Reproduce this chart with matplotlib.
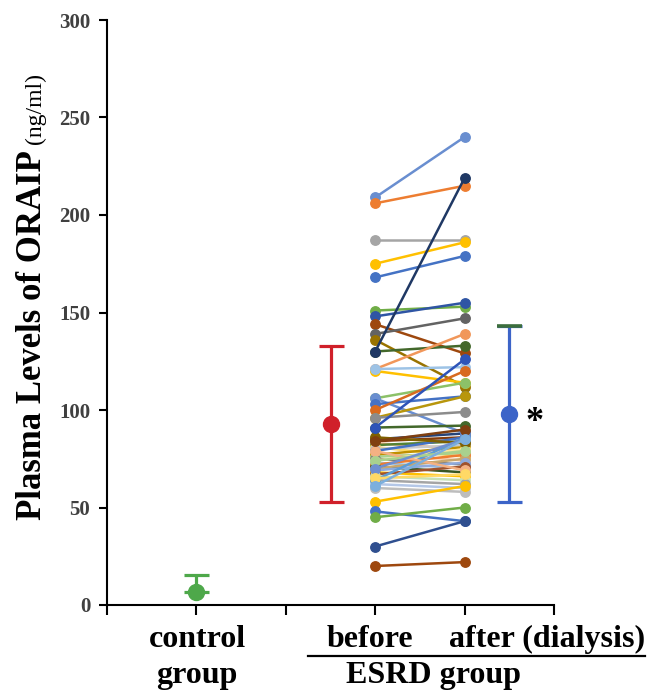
import matplotlib
matplotlib.use("Agg")
import matplotlib.pyplot as plt
from matplotlib.lines import Line2D

W, H = 649, 692
SERIF = ["Liberation Serif", "DejaVu Serif"]

# Einzelne Patienten: vor / nach Dialyse (ng/ml), Farben wie im Excel-Diagramm
before = [85, 84, 83, 82, 81, 80, 79, 78, 77, 76, 75, 74, 73, 72, 71, 70, 69, 68, 67, 66,
          64, 62, 64, 86, 79, 74, 70, 65, 60,
          209, 206, 187, 175, 168, 151, 148, 144, 139, 136, 130, 121, 120, 121,
          106, 106, 103, 100, 96, 96, 91, 84, 61, 53, 48, 45, 30, 20, 91, 130]
after = [88, 86, 80, 84, 76, 82, 86, 74, 81, 78, 72, 80, 70, 77, 68, 75, 73, 66, 71, 64,
         62, 60, 86, 83, 69, 79, 85, 67, 58,
         240, 215, 187, 186, 179, 153, 155, 129, 147, 112, 133, 139, 114, 122,
         114, 88, 107, 120, 107, 99, 92, 90, 85, 61, 43, 50, 43, 22, 126, 219]
colors = ["#264478", "#843C0C", "#F4B183", "#548235", "#FFD966", "#C9C9C9", "#4472C4",
          "#F8CBAD", "#BF9000", "#A9D18E", "#7F7F7F", "#FFE699", "#9DC3E6", "#ED7D31",
          "#375623", "#C9A66B", "#8FAADC", "#FFC000", "#A0522D", "#C5E0B4", "#A5A5A5",
          "#B4C7E7", "#5B9BD5", "#7F6000", "#F4B183", "#A9D18E", "#6F8FD0", "#FFD966",
          "#BDBDBD",
          "#698ED0", "#ED7D31", "#A5A5A5", "#FFC000", "#4472C4", "#70AD47", "#2F55A4",
          "#9E480E", "#636363", "#997300", "#43682B", "#F1975A", "#FFC000", "#9DC3E6",
          "#8CC168", "#698ED0", "#4472C4", "#D86A1F", "#B8960C", "#8C8C8C", "#43682B",
          "#7F3F10", "#7CAFDD", "#FFC000", "#4472C4", "#70AD47", "#2F4F8F", "#9E480E",
          "#2E54B8", "#1F3864"]

X_BEFORE, X_AFTER = 3, 4

# Gruppenmittel mit Fehlerbalken
grp_x    = [1, 2.5, 4.5]
grp_mean = [6.7, 93, 98]
grp_lo   = [6.7, 53, 53]
grp_hi   = [15.5, 133, 143]
grp_col  = ["#4EA84A", "#D0202A", "#3C64C8"]

fig = plt.figure(figsize=(W / 100, H / 100), dpi=100)
ax = fig.add_axes([107 / W, 1 - 605 / H, (554 - 107) / W, (605 - 20) / H])

for b, a, c in zip(before, after, colors):
    ax.plot([X_BEFORE, X_AFTER], [b, a], "o-", color=c, lw=1.8, ms=6.8, zorder=2)

for x, m, lo, hi, c in zip(grp_x, grp_mean, grp_lo, grp_hi, grp_col):
    ax.errorbar([x], [m], yerr=[[m - lo], [hi - m]], fmt="o", color=c, ms=11.5,
                elinewidth=2.3, capsize=9, capthick=2.3, zorder=3)
# obere Kappe des blauen Balkens erscheint dunkelgrün
ax.plot([grp_x[2]], [grp_hi[2]], marker="_", ms=18, mew=2.6, color="#3C6E3C", zorder=4)

ax.text(4.78, 89, "*", fontsize=26, fontweight="bold", family=SERIF,
        ha="center", va="baseline")

ax.set_xlim(0, 5)
ax.set_ylim(0, 300)
ax.set_xticks(range(6))
ax.set_xticklabels([])
ax.set_yticks(range(0, 301, 50))
ax.tick_params(axis="y", direction="out", length=6, width=1.5, labelsize=15,
               labelcolor="#404040", pad=6)
ax.tick_params(axis="x", direction="out", length=7, width=1.5)
for lab in ax.get_yticklabels():
    lab.set_fontfamily(SERIF)
    lab.set_fontweight("bold")
ax.spines["top"].set_visible(False)
ax.spines["right"].set_visible(False)
ax.spines["left"].set_linewidth(1.5)
ax.spines["bottom"].set_linewidth(1.5)

# y-Achsentitel: fett + normal
t1 = fig.text(41 / W, 1 - 520 / H, "Plasma Levels of ORAIP", rotation=90,
              rotation_mode="anchor", ha="left", va="baseline", fontsize=25,
              fontweight="bold", family=SERIF)
fig.canvas.draw()
bb = t1.get_window_extent()
fig.text(41 / W, (bb.y1 + 6) / H, "(ng/ml)", rotation=90, rotation_mode="anchor",
         ha="left", va="baseline", fontsize=17, family=SERIF)

# x-Beschriftungen
lab_kw = dict(fontsize=23, fontweight="bold", family=SERIF, va="baseline")
fig.text(197 / W, 1 - 647 / H, "control", ha="center", **lab_kw)
fig.text(197 / W, 1 - 683 / H, "group", ha="center", **lab_kw)
fig.text(327 / W, 1 - 647 / H, "before", ha="left", **lab_kw)
fig.text(645 / W, 1 - 647 / H, "after (dialysis)", ha="right", **lab_kw)
fig.text(434 / W, 1 - 683 / H, "ESRD group", ha="center", **lab_kw)
fig.add_artist(Line2D([308 / W, 645 / W], [1 - 656 / H, 1 - 656 / H], color="black", lw=1.6))

fig.savefig("out.png", dpi=100)
